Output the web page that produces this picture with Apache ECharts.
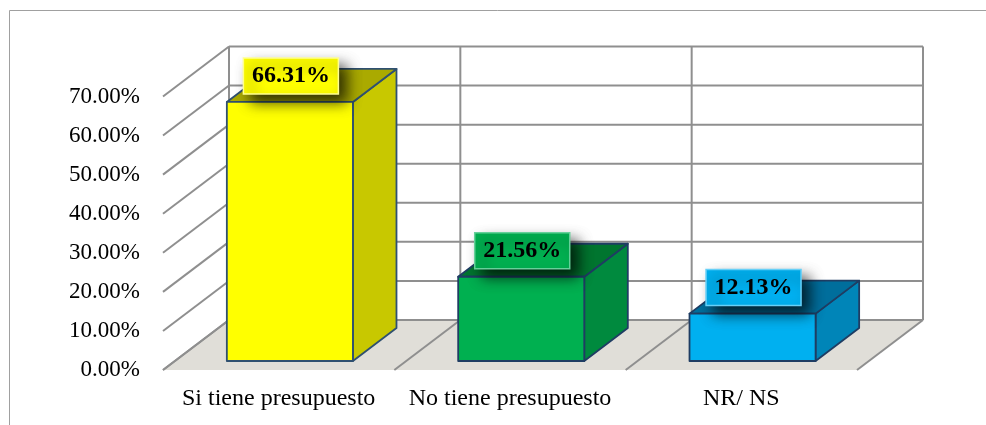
<!DOCTYPE html>
<html>
<head>
<meta charset="utf-8">
<style>html,body{margin:0;padding:0;background:#fff}#c{width:986px;height:425px}</style>
<script src="https://cdn.jsdelivr.net/npm/echarts@6/dist/echarts.min.js"></script>
</head>
<body>
<div id="c"></div>
<script>
const categories = ['Si tiene presupuesto', 'No tiene presupuesto', 'NR/ NS'];
const values = [66.31, 21.56, 12.13];
const yTicks = [0, 10, 20, 30, 40, 50, 60, 70];
const frontColors = ['#FFFF00', '#00B050', '#00B0F0'];
const sideColors = ['#C8C800', '#008A3E', '#0085B8'];
const topColors = ['#AAAA00', '#00752F', '#006E9C'];
const labelBorders = ['#FFFF90', '#66D09A', '#66D0F8'];
const edgeColors = ['#2F5070', '#1F3D63', '#1F3D63'];

const DX = 66, DY = -50;          // wall depth in pixels
const GRID = '#8F8F8F';
const FONT = '"Liberation Serif","Times New Roman",serif';

const chart = echarts.init(document.getElementById('c'), null, {renderer: 'canvas'});

function line(x1, y1, x2, y2, w) {
  return {type: 'line', shape: {x1, y1, x2, y2}, style: {stroke: GRID, lineWidth: w, fill: null}};
}

function renderFloor(params, api) {
  const cs = params.coordSys;
  const y0 = api.coord([0, 0])[1];
  const left = cs.x, right = cs.x + cs.width;
  return {type: 'group', children: [{
    type: 'polygon',
    shape: {points: [[left, y0], [left + DX, y0 + DY], [right + DX, y0 + DY], [right, y0]]},
    style: {fill: '#E0DED8'}
  }]};
}

function renderDivider(params, api) {
  const cs = params.coordSys;
  const band = api.size([1, 0])[0];
  const i = api.value(0);
  const x = cs.x + band * i;
  const y0 = api.coord([0, 0])[1];
  const yTop = cs.y;
  return {type: 'group', children: [
    line(x + DX, y0 + DY, x + DX, yTop + DY, 2),
    line(x, y0, x + DX, y0 + DY, 2)
  ]};
}

function renderGridline(params, api) {
  const cs = params.coordSys;
  const y = api.coord([0, api.value(1)])[1];
  const left = cs.x, right = cs.x + cs.width;
  return {type: 'group', children: [
    line(left + DX, y + DY, right + DX, y + DY, 2),
    line(left, y, left + DX, y + DY, 2)
  ]};
}

function renderBar(params, api) {
  const i = params.dataIndex;
  const v = api.value(1);
  const band = api.size([1, 0])[0];
  const cx = api.coord([i, 0])[0];
  const y0 = api.coord([i, 0])[1];
  const yv = api.coord([i, v])[1];
  const w = band * 0.545;
  const shiftX = 0.17 * DX, shiftY = 0.18 * DY;
  const ddx = 0.66 * DX, ddy = 0.66 * DY;
  const xL = cx - w / 2 + shiftX, xR = cx + w / 2 + shiftX;
  const yB = y0 + shiftY, yT = yv + shiftY;
  const edge = {stroke: edgeColors[i], lineWidth: 1.8, lineJoin: 'round'};
  const lx = (xL + xR) / 2 + 1, ly = yT - 26;
  const bw = 95, bh = 36;
  return {type: 'group', children: [
    {type: 'polygon', shape: {points: [[xR, yT], [xR + ddx, yT + ddy], [xR + ddx, yB + ddy], [xR, yB]]},
     style: Object.assign({fill: sideColors[i]}, edge)},
    {type: 'polygon', shape: {points: [[xL, yT], [xL + ddx, yT + ddy], [xR + ddx, yT + ddy], [xR, yT]]},
     style: Object.assign({fill: topColors[i]}, edge)},
    {type: 'rect', shape: {x: xL, y: yT, width: xR - xL, height: yB - yT},
     style: Object.assign({fill: frontColors[i]}, edge)},
    {type: 'rect', shape: {x: lx - bw / 2, y: ly - bh / 2, width: bw, height: bh},
     style: {fill: frontColors[i], stroke: labelBorders[i], lineWidth: 1.5,
             shadowBlur: 14, shadowColor: 'rgba(0,0,0,0.7)', shadowOffsetX: 8, shadowOffsetY: 8}},
    {type: 'text', style: {x: lx, y: ly, text: v.toFixed(2) + '%', fill: '#000',
             font: 'bold 24px ' + FONT, align: 'center', verticalAlign: 'middle'}}
  ]};
}

chart.setOption({
  animation: false,
  backgroundColor: '#fff',
  grid: {left: 163, right: 129, top: 96.5, bottom: 55},
  xAxis: {
    type: 'category', data: categories,
    axisLine: {show: false}, axisTick: {show: false}, splitLine: {show: false},
    axisLabel: {color: '#000', fontFamily: FONT, fontSize: 24, margin: 17, interval: 0}
  },
  yAxis: {
    type: 'value', min: 0, max: 70, interval: 10,
    axisLine: {show: false}, axisTick: {show: false}, splitLine: {show: false},
    axisLabel: {color: '#000', fontFamily: FONT, fontSize: 23, margin: 23,
                formatter: v => v.toFixed(2) + '%'}
  },
  graphic: [{
    type: 'polyline', silent: true,
    shape: {points: [[9.5, 425], [9.5, 10.5], [986, 10.5]]},
    style: {stroke: '#A0A0A0', lineWidth: 1, fill: null}
  }],
  series: [
    {type: 'custom', coordinateSystem: 'cartesian2d', z: 1, silent: true, clip: false,
     encode: {x: 0, y: 1}, data: [[0, 0]], renderItem: renderFloor},
    {type: 'custom', coordinateSystem: 'cartesian2d', z: 2, silent: true, clip: false,
     encode: {x: 0, y: 1}, data: yTicks.map(t => [0, t]), renderItem: renderGridline},
    {type: 'custom', coordinateSystem: 'cartesian2d', z: 3, silent: true, clip: false,
     encode: {x: 0, y: 1}, data: [0, 1, 2, 3].map(i => [i, 0]), renderItem: renderDivider},
    {type: 'custom', coordinateSystem: 'cartesian2d', z: 4, silent: true, clip: false,
     encode: {x: 0, y: 1}, data: values.map((v, i) => [i, v]), renderItem: renderBar}
  ]
});
</script>
</body>
</html>
